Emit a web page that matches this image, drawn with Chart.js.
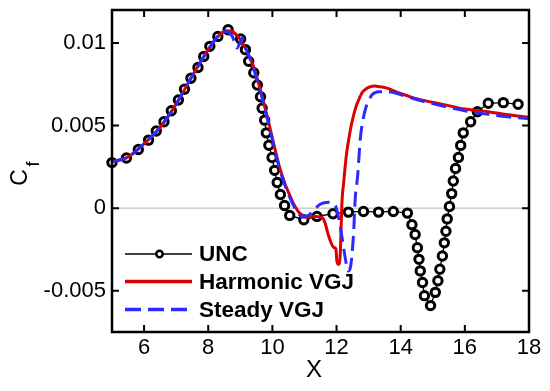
<!DOCTYPE html>
<html>
<head>
<meta charset="utf-8">
<script src="https://cdn.jsdelivr.net/npm/chart.js@4.4.0/dist/chart.umd.min.js"></script>
<style>
  html, body { margin: 0; padding: 0; background: #fff; }
  #wrap { width: 550px; height: 391px; }
</style>
</head>
<body>
<div id="wrap"><canvas id="cfChart" width="550" height="391"></canvas></div>
<script>
// UNC (circles)
const uncX = [5.0, 5.45, 5.82, 6.14, 6.38, 6.62, 6.85, 7.07, 7.26, 7.46, 7.68, 7.86, 8.05, 8.30, 8.62,
  9.01, 9.16, 9.26, 9.42, 9.53, 9.63, 9.68, 9.76, 9.81, 9.89, 9.99, 10.07, 10.15, 10.25, 10.38, 10.54,
  10.98, 11.39, 11.89, 12.37, 12.84, 13.31, 13.77, 14.21, 14.35, 14.45, 14.52, 14.57, 14.61, 14.68, 14.74,
  14.93, 15.08, 15.16, 15.22, 15.30, 15.36, 15.41, 15.45, 15.52, 15.59, 15.64, 15.71, 15.80, 15.87, 15.95,
  16.18, 16.39, 16.73, 17.20, 17.66];
const uncY = [0.00276, 0.00304, 0.00355, 0.00412, 0.00467, 0.00523, 0.0059, 0.00655, 0.0072, 0.00787, 0.00852, 0.00918, 0.0098, 0.0104, 0.0108,
  0.01024, 0.0096, 0.0089, 0.0082, 0.00746, 0.00675, 0.00605, 0.00533, 0.00456, 0.00381, 0.00307, 0.00229, 0.00155, 0.00083, 0.00016, -0.00044,
  -0.0007, -0.0005, -0.00034, -0.00024, -0.0002, -0.00024, -0.0002, -0.0003, -0.001, -0.0016, -0.0024, -0.0031, -0.0038, -0.0045, -0.0053,
  -0.0059, -0.0051, -0.0044, -0.0037, -0.0029, -0.0021, -0.0014, -0.00065, 0.0001, 0.00088, 0.00164, 0.0024, 0.00307, 0.0038, 0.00456,
  0.00523, 0.00584, 0.00635, 0.00639, 0.00629];

// Harmonic VGJ (red solid)
const harmX = [5.0, 5.5, 6.0, 6.5, 7.0, 7.5, 8.0, 8.3, 8.55, 8.75, 9.0, 9.35, 9.58, 9.87, 10.25, 10.61, 10.85,
  11.1, 11.3, 11.55, 11.65, 11.75, 11.91, 11.98, 12.01, 12.06, 12.11, 12.14, 12.17, 12.22, 12.30, 12.40, 12.48,
  12.6, 12.69, 12.8, 12.9, 13.05, 13.2, 13.35, 13.52, 13.93, 14.55, 15.28, 16.0, 16.73, 17.35, 18.0];
const harmY = [0.0028, 0.0031, 0.0039, 0.0049, 0.0063, 0.0080, 0.0096, 0.0104, 0.01075, 0.0107, 0.0102, 0.0089, 0.0075, 0.0053, 0.0023, 0.00047, -0.0003,
  -0.00055, -0.0005, -0.00055, -0.00095, -0.00166, -0.00237, -0.00247, -0.0032, -0.0034, -0.0030, -0.0014, 0.0004, 0.0015, 0.0031, 0.0044, 0.0052,
  0.0061, 0.00655, 0.0070, 0.0072, 0.00735, 0.0074, 0.00735, 0.0073, 0.0070, 0.0066, 0.0063, 0.0060, 0.00584, 0.00565, 0.0055];

// Steady VGJ (blue dashed)
const steadyX = [5.0, 5.5, 6.0, 6.5, 7.0, 7.5, 8.0, 8.3, 8.55, 8.75, 8.9, 9.0, 9.06, 9.15, 9.35, 9.58, 9.87, 10.25, 10.6, 10.8,
  10.95, 11.15, 11.3, 11.5, 11.75, 11.96, 12.06, 12.17, 12.27, 12.36, 12.43, 12.53, 12.58, 12.66, 12.74, 12.82, 12.9,
  13.0, 13.1, 13.2, 13.31, 13.62, 14.04, 14.55, 15.28, 16.0, 16.73, 17.35, 18.0];
const steadyY = [0.0028, 0.0031, 0.0039, 0.0049, 0.0063, 0.0080, 0.0096, 0.0104, 0.0107, 0.0104, 0.0097, 0.0101, 0.0103, 0.0098, 0.0088, 0.0074, 0.0052, 0.0022, 0.0004, -0.0003,
  -0.00055, -0.0004, -0.0001, 0.00025, 0.00036, 0.00016, -0.00055, -0.00176, -0.0030, -0.0038, -0.0036, -0.00156, 0.0005, 0.0020, 0.0042, 0.0053, 0.0060,
  0.0065, 0.00685, 0.0070, 0.00705, 0.00705, 0.00685, 0.00655, 0.0062, 0.0059, 0.00568, 0.00553, 0.00542];

const seriesNames = ["UNC", "Harmonic VGJ", "Steady VGJ"];
const xTicks = [6, 8, 10, 12, 14, 16, 18];
const yTicks = [-0.005, 0, 0.005, 0.01];

const FONT = "'Liberation Sans', Arial, Helvetica, sans-serif";

function toPoints(xs, ys) {
  return xs.map((x, i) => ({ x: x, y: ys[i] }));
}

// frame, inner ticks, zero line, axis titles and legend
const decorPlugin = {
  id: "decor",
  beforeDatasetsDraw(chart) {
    const { ctx, chartArea, scales } = chart;
    const y0 = scales.y.getPixelForValue(0);
    ctx.save();
    ctx.strokeStyle = "#b4b4b4";
    ctx.lineWidth = 1;
    ctx.beginPath();
    ctx.moveTo(chartArea.left, y0);
    ctx.lineTo(chartArea.right, y0);
    ctx.stroke();
    ctx.restore();
  },
  afterDraw(chart) {
    const { ctx, chartArea, scales } = chart;
    const { left, right, top, bottom } = chartArea;
    const tl = 7;
    ctx.save();
    ctx.strokeStyle = "#000";
    ctx.lineWidth = 2;
    ctx.beginPath();
    xTicks.forEach((v) => {
      const px = scales.x.getPixelForValue(v);
      ctx.moveTo(px, bottom); ctx.lineTo(px, bottom - tl);
      ctx.moveTo(px, top); ctx.lineTo(px, top + tl);
    });
    yTicks.forEach((v) => {
      const py = scales.y.getPixelForValue(v);
      ctx.moveTo(left, py); ctx.lineTo(left + tl, py);
      ctx.moveTo(right, py); ctx.lineTo(right - tl, py);
    });
    ctx.stroke();
    ctx.lineWidth = 2.5;
    ctx.strokeRect(left, top, right - left, bottom - top);

    // axis titles
    ctx.fillStyle = "#000";
    ctx.font = "24px " + FONT;
    ctx.textAlign = "center";
    ctx.textBaseline = "middle";
    ctx.fillText("X", 314, 370);

    ctx.save();
    ctx.translate(27, 177.5);
    ctx.rotate(-Math.PI / 2);
    ctx.textBaseline = "alphabetic";
    ctx.font = "23px " + FONT;
    ctx.textAlign = "center";
    ctx.fillText("C", 0, 0);
    ctx.font = "18px " + FONT;
    ctx.textAlign = "left";
    ctx.fillText("f", 11, 12);
    ctx.restore();

    // legend
    const ds = chart.data.datasets;
    const rows = [254, 281.5, 309.5];
    const x1 = 125, x2 = 192;
    ds.forEach((d, i) => {
      const ry = rows[i];
      ctx.save();
      ctx.strokeStyle = d.borderColor;
      ctx.lineWidth = i === 0 ? 1.5 : 3.5;
      ctx.setLineDash(d.borderDash ? [16, 7] : []);
      ctx.beginPath();
      ctx.moveTo(x1, ry);
      ctx.lineTo(x2, ry);
      ctx.stroke();
      ctx.setLineDash([]);
      if (d.pointRadius) {
        ctx.beginPath();
        ctx.arc(159.5, ry, 3.2, 0, Math.PI * 2);
        ctx.fillStyle = d.pointBackgroundColor;
        ctx.fill();
        ctx.lineWidth = 2.5;
        ctx.strokeStyle = d.pointBorderColor;
        ctx.stroke();
      }
      ctx.fillStyle = "#000";
      ctx.font = "bold 22.5px " + FONT;
      ctx.textAlign = "left";
      ctx.textBaseline = "middle";
      ctx.fillText(d.label, 199, ry + 1);
      ctx.restore();
    });
    ctx.restore();
  },
};

const ctx = document.getElementById("cfChart").getContext("2d");
const cfChart = new Chart(ctx, {
  type: "line",
  data: {
    datasets: [
      {
        label: seriesNames[0],
        data: toPoints(uncX, uncY),
        borderColor: "#000",
        borderWidth: 1.3,
        pointRadius: 4.2,
        pointBackgroundColor: "#fff",
        pointBorderColor: "#000",
        pointBorderWidth: 3,
        tension: 0,
        clip: false,
        order: 3,
      },
      {
        label: seriesNames[1],
        data: toPoints(harmX, harmY),
        borderColor: "#dd0000",
        borderWidth: 3,
        pointRadius: 0,
        cubicInterpolationMode: "monotone",
        order: 2,
      },
      {
        label: seriesNames[2],
        data: toPoints(steadyX, steadyY),
        borderColor: "#2a2aff",
        borderWidth: 3,
        borderDash: [15, 7],
        pointRadius: 0,
        cubicInterpolationMode: "monotone",
        order: 1,
      },
    ],
  },
  options: {
    responsive: false,
    animation: false,
    devicePixelRatio: 1,
    layout: { padding: { left: 0, right: 21, top: 10, bottom: 0 } },
    plugins: {
      legend: { display: false },
      tooltip: { enabled: false },
    },
    scales: {
      x: {
        type: "linear",
        min: 5,
        max: 18,
        grid: { display: false, drawTicks: false },
        border: { display: false },
        afterBuildTicks: (s) => { s.ticks = xTicks.map((v) => ({ value: v })); },
        afterFit: (s) => { s.height = 59; s.paddingLeft = 0; s.paddingRight = 0; },
        ticks: {
          color: "#000",
          padding: 3,
          maxRotation: 0,
          font: { family: FONT, size: 22 },
          callback: (v) => String(v),
        },
      },
      y: {
        type: "linear",
        min: -0.0075,
        max: 0.012,
        grid: { display: false, drawTicks: false },
        border: { display: false },
        afterBuildTicks: (s) => { s.ticks = yTicks.map((v) => ({ value: v })); },
        afterFit: (s) => { s.width = 112; s.paddingTop = 0; s.paddingBottom = 0; },
        ticks: {
          color: "#000",
          padding: 6,
          font: { family: FONT, size: 22 },
          callback: (v) => String(v),
        },
      },
    },
  },
  plugins: [decorPlugin],
});
</script>
</body>
</html>
